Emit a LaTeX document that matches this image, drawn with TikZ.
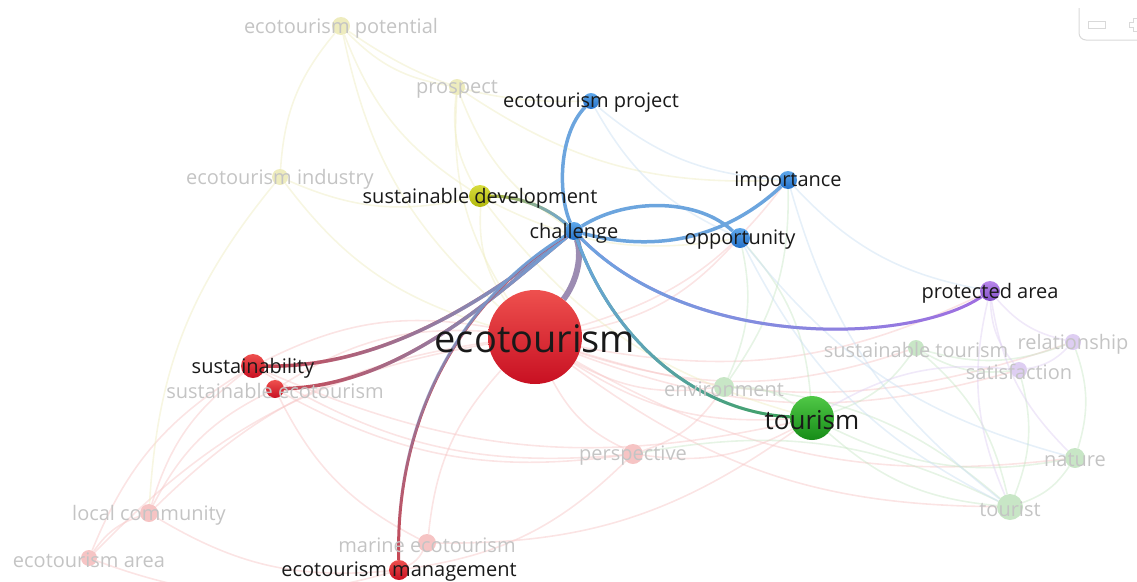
\documentclass[tikz,border=0pt]{standalone}
\usepackage{fontspec}
\setmainfont{Open Sans}
\usetikzlibrary{fadings}

% cluster colours
\definecolor{redT}{RGB}{238,80,78}
\definecolor{redB}{RGB}{200,16,34}
\definecolor{blueT}{RGB}{95,168,235}
\definecolor{blueB}{RGB}{35,112,200}
\definecolor{yelT}{RGB}{215,220,60}
\definecolor{yelB}{RGB}{178,184,12}
\definecolor{grnT}{RGB}{80,200,70}
\definecolor{grnB}{RGB}{22,140,24}
\definecolor{purT}{RGB}{185,135,235}
\definecolor{purB}{RGB}{130,80,200}
% faded colours
\definecolor{fred}{RGB}{246,196,196}
\definecolor{fyel}{RGB}{238,236,190}
\definecolor{fgrn}{RGB}{200,230,198}
\definecolor{fpur}{RGB}{222,206,242}
\definecolor{fblue}{RGB}{200,222,242}
% highlighted links
\definecolor{linkBlue}{RGB}{108,165,222}
\definecolor{linkEco}{RGB}{156,140,178}
\definecolor{linkRed}{RGB}{200,72,84}
\definecolor{linkGrn}{RGB}{60,160,90}
\definecolor{linkPur}{RGB}{160,110,225}
\definecolor{linkYel}{RGB}{175,185,60}
\definecolor{labDark}{RGB}{25,25,25}
\definecolor{labFaint}{RGB}{196,196,196}

\pgfdeclarelayer{edges}
\pgfdeclarelayer{labels}
\pgfsetlayers{edges,main,labels}

\tikzfading[name=fadeL, left color=transparent!0, right color=transparent!100]

\tikzset{
  kw/.style={circle, inner sep=0pt, minimum size=#1},
  redkw/.style={kw=#1, top color=redT, bottom color=redB},
  bluekw/.style={kw=#1, top color=blueT, bottom color=blueB},
  yelkw/.style={kw=#1, top color=yelT, bottom color=yelB},
  grnkw/.style={kw=#1, top color=grnT, bottom color=grnB},
  purkw/.style={kw=#1, top color=purT, bottom color=purB},
  lab/.style={font=\fontsize{20}{20}\selectfont, text=labDark, inner sep=0pt, yshift=-2pt},
  flab/.style={lab, text=labFaint},
  fedge/.style={draw=#1, line width=1.6pt, opacity=0.45},
  sedge/.style={draw=#1, line width=3.5pt},
  % blue at the challenge end, fading into the other colour
  gedge/.style 2 args={draw=#1, line width=3.5pt,
    postaction={draw=linkBlue, path fading=fadeL, fading angle=#2}},
}

\begin{document}
\begin{tikzpicture}[x=1pt,y=-1pt]
\useasboundingbox (0,0) rectangle (1137,581);

%% keyword circles
% red cluster
\node[redkw=94] (eco) at (535,337) {};
\node[redkw=24] (sust) at (253,366) {};
\node[redkw=18] (sec) at (275,389) {};
\node[redkw=20] (mgmt) at (399,570) {};
\node[kw=20, fill=fred] (persp) at (633,454) {};
\node[kw=18, fill=fred] (lc) at (149,513) {};
\node[kw=16, fill=fred] (area) at (89,558) {};
\node[kw=18, fill=fred] (mar) at (427,543) {};
% blue cluster
\node[bluekw=18] (cha) at (574,231) {};
\node[bluekw=16] (proj) at (591,101) {};
\node[bluekw=18] (imp) at (788,180) {};
\node[bluekw=20] (opp) at (740,238) {};
% yellow cluster
\node[yelkw=22] (sd) at (480,196) {};
\node[kw=18, fill=fyel] (pot) at (341,26) {};
\node[kw=16, fill=fyel] (pros) at (457,87) {};
\node[kw=16, fill=fyel] (ind) at (280,177) {};
% green cluster
\node[grnkw=44] (tour) at (812,418) {};
\node[kw=16, fill=fgrn] (stour) at (916,348) {};
\node[kw=20, fill=fgrn] (env) at (724,387) {};
\node[kw=20, fill=fgrn] (nat) at (1075,458) {};
\node[kw=26, fill=fgrn] (tst) at (1010,507) {};
% purple cluster
\node[purkw=20] (pa) at (990,291) {};
\node[kw=16, fill=fpur] (rel) at (1073,342) {};
\node[kw=16, fill=fpur] (sat) at (1019,370) {};

\begin{pgfonlayer}{edges}
% faded links
\foreach \a/\b/\c in {eco/lc/fred, eco/area/fred, eco/mar/fred, eco/persp/fred,
    eco/env/fred, eco/tour/fred, eco/tst/fred, eco/nat/fred, eco/stour/fred,
    eco/sat/fred, eco/rel/fred, eco/opp/fred, eco/imp/fred, eco/pa/fred,
    eco/sust/fred, eco/sec/fred, sust/lc/fred, sust/area/fred, sust/persp/fred,
    sust/tour/fred, sec/mar/fred, sec/lc/fred, sec/persp/fred, lc/area/fred,
    lc/mgmt/fred, mgmt/mar/fred, persp/tour/fred, persp/env/fred, mar/tour/fred,
    area/mgmt/fred, mgmt/persp/fred,
    pot/ind/fyel, pot/pros/fyel, pot/sd/fyel, pot/eco/fyel, pot/proj/fyel,
    pros/sd/fyel, pros/cha/fyel, pros/imp/fyel, pros/eco/fyel, ind/sd/fyel,
    ind/eco/fyel, ind/lc/fyel, sd/eco/fyel, sd/opp/fyel, sd/tour/fyel,
    tour/tst/fgrn, tour/nat/fgrn, tour/stour/fgrn, tour/env/fgrn, tour/opp/fgrn,
    tst/nat/fgrn, tst/stour/fgrn, tst/env/fgrn, tst/sat/fgrn, nat/rel/fgrn,
    stour/rel/fgrn, env/opp/fgrn, stour/sat/fgrn, tst/persp/fgrn, env/imp/fgrn,
    pa/rel/fpur, pa/sat/fpur, sat/rel/fpur, pa/tst/fpur, sat/tour/fpur, pa/nat/fpur,
    proj/opp/fblue, imp/tst/fblue, opp/tst/fblue, imp/pa/fblue, proj/imp/fblue,
    opp/nat/fblue}
  \draw[fedge=\c] (\a) to[bend right=18] (\b);

% links of the selected keyword
\draw[sedge=linkBlue] (cha) .. controls (558,195) and (558,135) .. (proj);
\draw[sedge=linkBlue] (cha) .. controls (630,196) and (700,200) .. (opp);
\draw[sedge=linkBlue] (cha) .. controls (660,254) and (728,236) .. (imp);
\draw[gedge={linkYel}{180}, line width=3pt] (cha) .. controls (545,205) and (515,196) .. (sd);
\draw[sedge=linkEco, line width=6pt] (cha) .. controls (582,255) and (578,280) .. (eco);
\draw[gedge={linkRed}{180}] (cha) .. controls (495,292) and (390,368) .. (sust);
\draw[gedge={linkRed}{180}] (cha) .. controls (490,300) and (400,385) .. (sec);
\draw[gedge={linkRed}{270}, line width=3pt] (cha) .. controls (460,300) and (395,420) .. (mgmt);
\draw[gedge={linkGrn}{0}, line width=3pt] (cha) .. controls (615,345) and (700,412) .. (tour);
\draw[gedge={linkPur}{0}, line width=3pt] (cha) .. controls (690,350) and (910,345) .. (pa);
\end{pgfonlayer}

\begin{pgfonlayer}{labels}
\node[lab, font=\fontsize{38}{38}\selectfont] (ecoL) at (eco) {ecotourism};
\node[lab, font=\fontsize{26}{26}\selectfont] (tourL) at (tour) {tourism};
\node[lab] (chaL) at (cha) {challenge};
\node[lab] (projL) at (proj) {ecotourism project};
\node[lab] (impL) at (imp) {importance};
\node[lab] (oppL) at (opp) {opportunity};
\node[lab] (sdL) at (sd) {sustainable development};
\node[lab] (paL) at (pa) {protected area};
\node[lab] (sustL) at (sust) {sustainability};
\node[lab] (mgmtL) at (mgmt) {ecotourism management};
\node[flab] (secL) at (sec) {sustainable ecotourism};
\node[flab] (perspL) at (persp) {perspective};
\node[flab] (lcL) at (lc) {local community};
\node[flab] (areaL) at (area) {ecotourism area};
\node[flab] (marL) at (mar) {marine ecotourism};
\node[flab] (potL) at (pot) {ecotourism potential};
\node[flab] (prosL) at (pros) {prospect};
\node[flab] (indL) at (ind) {ecotourism industry};
\node[flab] (stourL) at (stour) {sustainable tourism};
\node[flab] (envL) at (env) {environment};
\node[flab] (natL) at (nat) {nature};
\node[flab] (tstL) at (tst) {tourist};
\node[flab] (relL) at (rel) {relationship};
\node[flab] (satL) at (sat) {satisfaction};
\end{pgfonlayer}

% zoom widget, top right
\draw[gray!30, line width=1pt, rounded corners=7pt] (1079,8) -- (1079,40) -- (1140,40);
\draw[gray!30, line width=1pt] (1088,21) rectangle (1105,28);
\draw[gray!30, line width=1pt] (1137,18) -- (1133,18) -- (1133,22) -- (1129,22) -- (1129,27) -- (1133,27) -- (1133,31) -- (1137,31);
\end{tikzpicture}
\end{document}
